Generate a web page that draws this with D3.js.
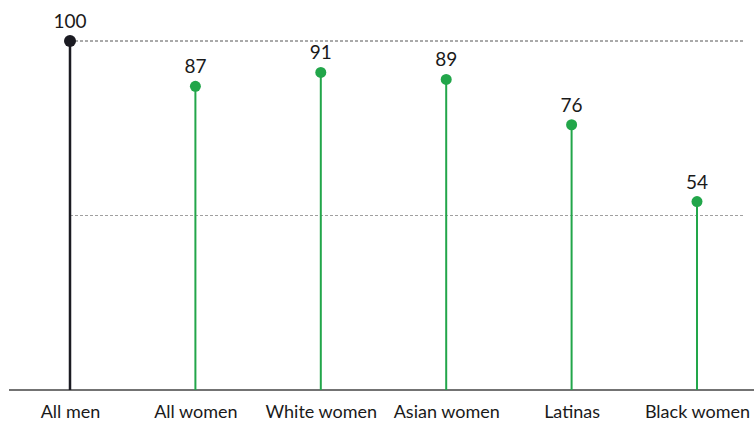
<!DOCTYPE html>
<html>
<head>
<meta charset="utf-8">
<script src="https://cdn.jsdelivr.net/npm/d3@7"></script>
<style>
  body { margin: 0; background: #fff; }
  text { font-family: "Lato", "DejaVu Sans", sans-serif; fill: #1a1a1a; }
</style>
</head>
<body>
<div id="chart"></div>
<script>
// groups and pay per dollar (all men = 100)
const groups = ["All men", "All women", "White women", "Asian women", "Latinas", "Black women"];
const values = [100, 87, 91, 89, 76, 54];
const gridLines = [100, 50];

const width = 754,
  height = 422;
const margin = { top: 41, right: 9, bottom: 32, left: 9 };

const svg = d3
  .select("#chart")
  .append("svg")
  .attr("width", width)
  .attr("height", height);

// x as points so the first and last stems sit near the edges
const x = d3
  .scalePoint()
  .domain(groups)
  .range([70, 697]);

const y = d3
  .scaleLinear()
  .domain([0, 100])
  .range([height - margin.bottom, margin.top]);

// reference lines
svg
  .selectAll(".grid")
  .data(gridLines)
  .enter()
  .append("line")
  .attr("class", "grid")
  .attr("x1", x(groups[0]))
  .attr("x2", 745)
  .attr("y1", (d) => y(d))
  .attr("y2", (d) => y(d))
  .attr("stroke", (d) => (d === 100 ? "#555" : "#a0a0a0"))
  .attr("stroke-width", 1)
  .attr("stroke-dasharray", "3,2");

// baseline axis
const xAxis = svg
  .append("g")
  .attr("transform", "translate(0," + y(0) + ")")
  .call(d3.axisBottom(x).tickSize(0).tickPadding(15));
xAxis.select(".domain").remove();
xAxis
  .append("line")
  .attr("x1", margin.left)
  .attr("x2", width)
  .attr("stroke", "#444")
  .attr("stroke-width", 1.5);
xAxis
  .selectAll(".tick text")
  .style("font-size", "18px")
  .style("font-family", "Lato, 'DejaVu Sans', sans-serif")
  .attr("fill", "#1a1a1a");

const data = groups.map((g, i) => ({ name: g, value: values[i] }));
const color = (d, i) => (i === 0 ? "#1b1b22" : "#22a64a");

// stems
svg
  .selectAll(".stem")
  .data(data)
  .enter()
  .append("line")
  .attr("class", "stem")
  .attr("x1", (d) => x(d.name))
  .attr("x2", (d) => x(d.name))
  .attr("y1", y(0))
  .attr("y2", (d) => y(d.value))
  .attr("stroke", color)
  .attr("stroke-width", (d, i) => (i === 0 ? 2.5 : 2));

// dots
svg
  .selectAll(".dot")
  .data(data)
  .enter()
  .append("circle")
  .attr("class", "dot")
  .attr("cx", (d) => x(d.name))
  .attr("cy", (d) => y(d.value))
  .attr("r", (d, i) => (i === 0 ? 6 : 5.5))
  .attr("fill", color);

// value labels
svg
  .selectAll(".val")
  .data(data)
  .enter()
  .append("text")
  .attr("class", "val")
  .attr("x", (d) => x(d.name))
  .attr("y", (d) => y(d.value) - 13)
  .attr("text-anchor", "middle")
  .style("font-size", "19px")
  .text((d) => d.value);
</script>
</body>
</html>
